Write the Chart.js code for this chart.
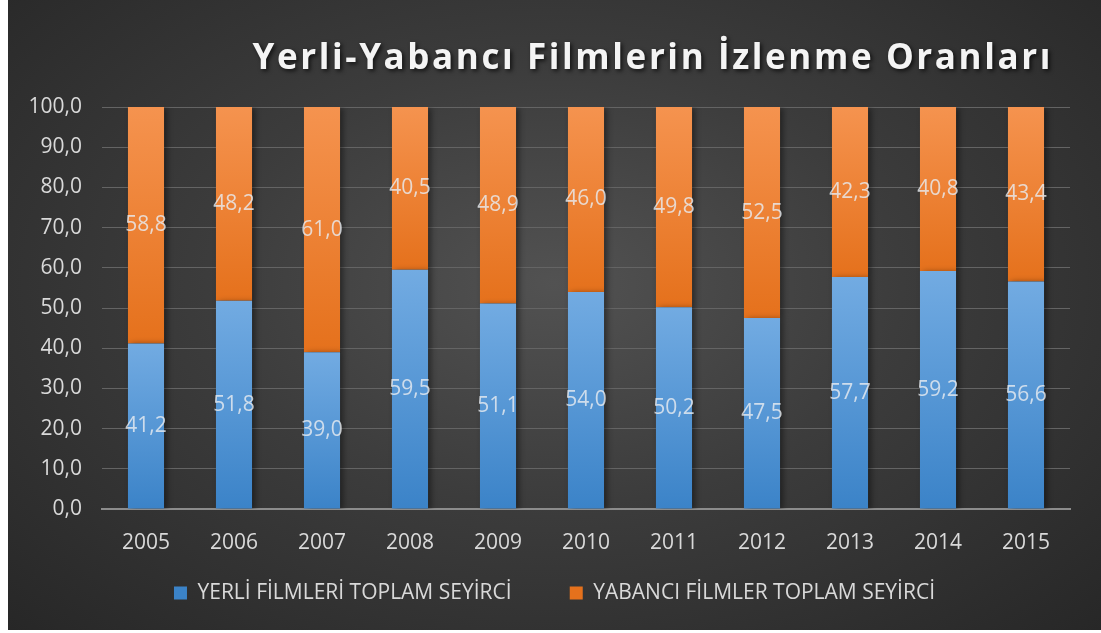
<!DOCTYPE html>
<html>
<head>
<meta charset="utf-8">
<script src="https://cdn.jsdelivr.net/npm/chart.js@4/dist/chart.umd.min.js"></script>
<style>
  body { margin: 0; background: #fff; }
  #wrap {
    position: absolute; left: 8px; top: 0; width: 1093px; height: 630px;
    background: radial-gradient(ellipse at 50% 45%, #525252 0%, #3c3c3c 45%, #272727 100%);
  }
</style>
</head>
<body>
<div id="wrap"><canvas id="myChart"></canvas></div>
<script>
let years = ['2005', '2006', '2007', '2008', '2009', '2010', '2011', '2012', '2013', '2014', '2015'];
let yerli = [41.2, 51.8, 39.0, 59.5, 51.1, 54.0, 50.2, 47.5, 57.7, 59.2, 56.6];
let yabanci = [58.8, 48.2, 61.0, 40.5, 48.9, 46.0, 49.8, 52.5, 42.3, 40.8, 43.4];
let seriesNames = ['YERLİ FİLMLERİ TOPLAM SEYİRCİ', 'YABANCI FİLMLER TOPLAM SEYİRCİ'];
let chartTitle = 'Yerli-Yabancı Filmlerin İzlenme Oranları';

const fmt = v => v.toFixed(1).replace('.', ',');

// gradient per segment, lighter on top
function segGradient(c, top, bottom, flat) {
    const chart = c.chart;
    if (!chart.chartArea || c.type !== 'data') return flat;
    const y = chart.scales.y;
    let lo = 0, hi = 0;
    for (let d = 0; d <= c.datasetIndex; d++) {
        lo = hi;
        hi += chart.data.datasets[d].data[c.dataIndex];
    }
    const g = chart.ctx.createLinearGradient(0, y.getPixelForValue(hi), 0, y.getPixelForValue(lo));
    g.addColorStop(0, top);
    g.addColorStop(1, bottom);
    return g;
}

const barShadow = {
    id: 'barShadow',
    beforeDatasetsDraw(chart) {
        const ctx = chart.ctx;
        ctx.save();
        ctx.shadowColor = 'rgba(0,0,0,0.45)';
        ctx.shadowBlur = 6;
        ctx.shadowOffsetX = 3;
        ctx.shadowOffsetY = 1;
    },
    afterDatasetsDraw(chart) {
        chart.ctx.restore();
    }
};

const valueLabels = {
    id: 'valueLabels',
    afterDatasetsDraw(chart) {
        const ctx = chart.ctx;
        ctx.save();
        ctx.font = '21px "Open Sans"';
        ctx.fillStyle = 'rgba(232,236,240,0.82)';
        ctx.textAlign = 'center';
        ctx.textBaseline = 'middle';
        chart.data.datasets.forEach((ds, i) => {
            chart.getDatasetMeta(i).data.forEach((bar, j) => {
                ctx.fillText(fmt(ds.data[j]), bar.x, (bar.y + bar.base) / 2);
            });
        });
        ctx.restore();
    }
};

// spaced-out title with a soft shadow
const spacedTitle = {
    id: 'spacedTitle',
    afterDraw(chart) {
        const ctx = chart.ctx;
        ctx.save();
        ctx.font = 'bold 35px "Open Sans"';
        ctx.letterSpacing = '2.6px';
        ctx.fillStyle = '#f4f4f4';
        ctx.textAlign = 'right';
        ctx.textBaseline = 'middle';
        ctx.shadowColor = 'rgba(0,0,0,0.7)';
        ctx.shadowBlur = 4;
        ctx.shadowOffsetX = 2;
        ctx.shadowOffsetY = 2;
        ctx.fillText(chartTitle, chart.width - 48, 59);
        ctx.restore();
    }
};

const myChart = new Chart(document.getElementById('myChart').getContext('2d'), {
    type: 'bar',
    data: {
        labels: years,
        datasets: [{
            label: seriesNames[0],
            data: yerli,
            backgroundColor: c => segGradient(c, '#72abe2', '#3b83c8', '#5a9de0'),
        }, {
            label: seriesNames[1],
            data: yabanci,
            backgroundColor: c => segGradient(c, '#f5934f', '#e5711c', '#f0802e'),
        }]
    },
    options: {
        responsive: true,
        maintainAspectRatio: false,
        animation: false,
        categoryPercentage: 1,
        barPercentage: 0.41,
        layout: { padding: { left: 0, right: 0, top: 107, bottom: 16.5 } },
        plugins: {
            title: { display: false },
            legend: {
                position: 'bottom',
                labels: {
                    color: '#d9d9d9',
                    font: { family: '"Open Sans"', size: 21 },
                    boxWidth: 13,
                    boxHeight: 13,
                    padding: 20,
                    // wider gap after the first item
                    generateLabels: chart => {
                        const items = Chart.defaults.plugins.legend.labels.generateLabels(chart);
                        items[0].text += '\u00A0'.repeat(7);
                        return items;
                    }
                }
            },
            tooltip: { enabled: false }
        },
        scales: {
            x: {
                stacked: true,
                grid: { display: false, drawTicks: false },
                border: { color: '#8c8c8c', width: 2 },
                ticks: { color: '#d9d9d9', font: { family: '"Open Sans"', size: 21 }, padding: 21 },
                afterFit: s => { s.height = 53.5; }
            },
            y: {
                stacked: true,
                min: 0,
                max: 100,
                grid: { color: '#646464', lineWidth: 1, drawTicks: false },
                border: { display: false },
                ticks: {
                    stepSize: 10,
                    color: '#d9d9d9',
                    font: { family: '"Open Sans"', size: 21 },
                    padding: 20,
                    callback: v => fmt(v)
                },
                afterFit: s => { s.width = 94; }
            },
            // empty right margin so the legend stays centred on the whole panel
            yRight: {
                position: 'right',
                grid: { display: false, drawTicks: false },
                border: { display: false },
                ticks: { display: false },
                afterFit: s => { s.width = 31; }
            }
        }
    },
    plugins: [barShadow, valueLabels, spacedTitle]
});
</script>
</body>
</html>
